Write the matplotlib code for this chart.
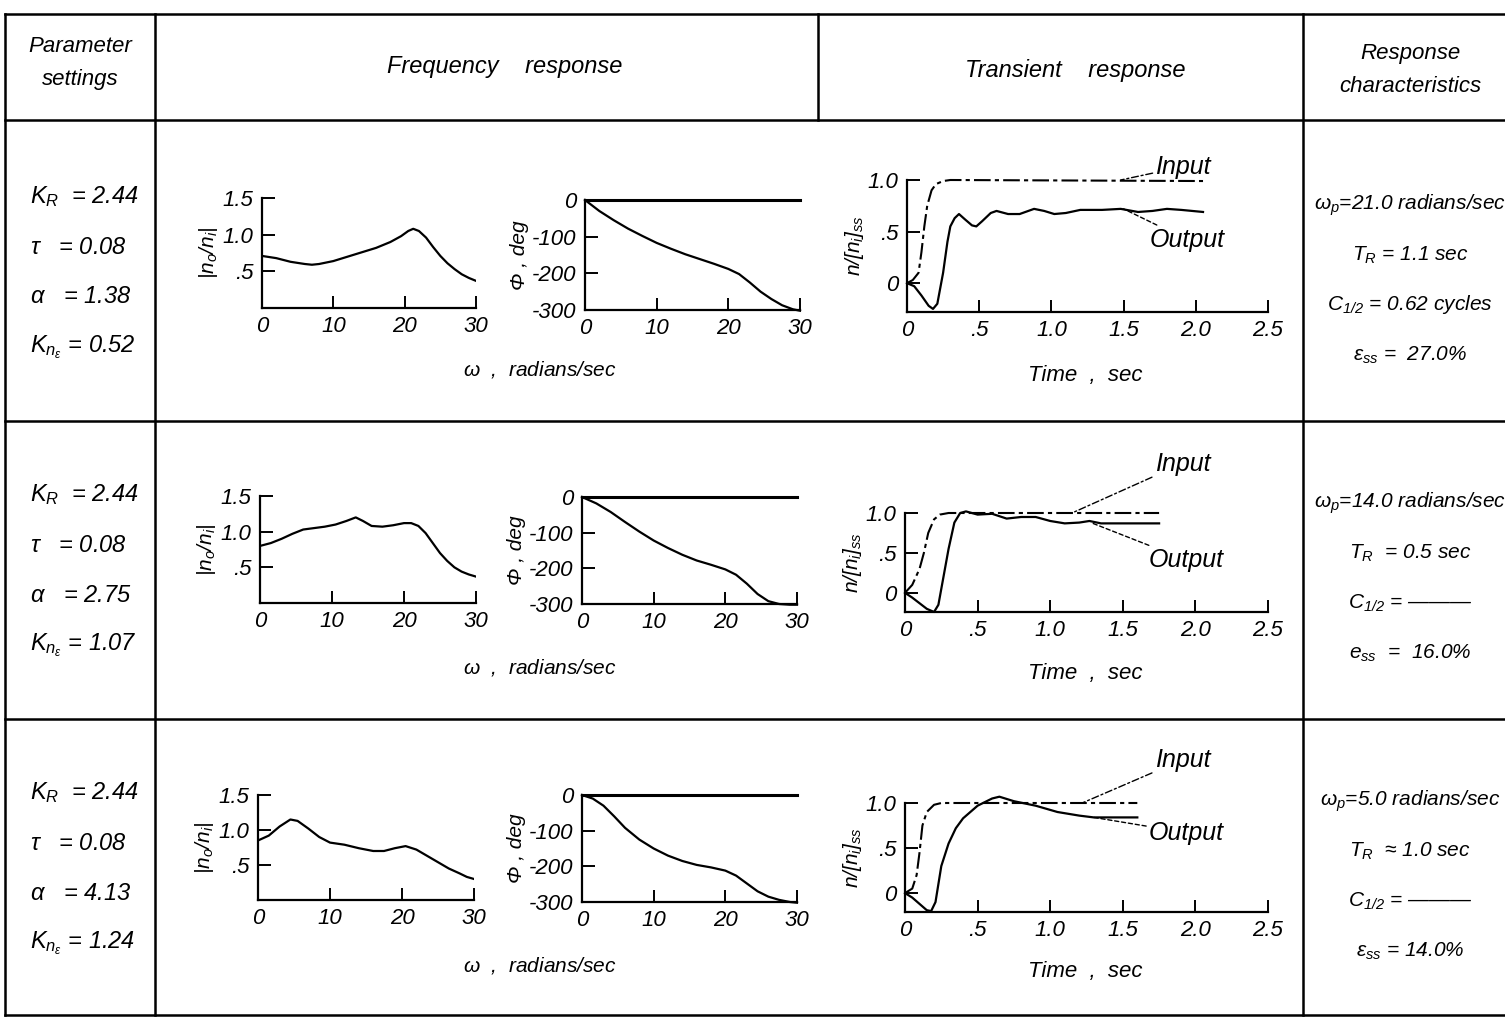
import matplotlib
matplotlib.use("Agg")
import matplotlib.pyplot as plt
from matplotlib.lines import Line2D

W, H = 1505, 1019

plt.rcParams["font.family"] = ["Liberation Sans", "DejaVu Sans"]
plt.rcParams["font.style"] = "italic"
plt.rcParams["mathtext.fontset"] = "custom"
plt.rcParams["mathtext.rm"] = "Liberation Sans:italic"
plt.rcParams["mathtext.it"] = "Liberation Sans:italic"
plt.rcParams["mathtext.sf"] = "Liberation Sans:italic"

headers = ["Parameter\nsettings", "Frequency    response", "Transient    response", "Response\ncharacteristics"]

params = [
    [r"$K_R$  = 2.44", r"$\tau$   = 0.08", r"$\alpha$   = 1.38", r"$K_{n_\epsilon}$ = 0.52"],
    [r"$K_R$  = 2.44", r"$\tau$   = 0.08", r"$\alpha$   = 2.75", r"$K_{n_\epsilon}$ = 1.07"],
    [r"$K_R$  = 2.44", r"$\tau$   = 0.08", r"$\alpha$   = 4.13", r"$K_{n_\epsilon}$ = 1.24"],
]

characteristics = [
    [r"$\omega_p$=21.0 radians/sec", r"$T_R$ = 1.1 sec", r"$C_{1/2}$ = 0.62 cycles", r"$\epsilon_{ss}$ =  27.0%"],
    [r"$\omega_p$=14.0 radians/sec", r"$T_R$  = 0.5 sec", r"$C_{1/2}$ = ———", r"$e_{ss}$  =  16.0%"],
    [r"$\omega_p$=5.0 radians/sec", r"$T_R$  ≈ 1.0 sec", r"$C_{1/2}$ = ———", r"$\epsilon_{ss}$ = 14.0%"],
]

# magnitude |no/ni| vs omega
w1 = [0, 2, 4, 6, 7, 8, 10, 12, 14, 16, 18, 19.5, 20.5, 21.2, 22, 23, 24, 25, 26, 27, 28, 29, 30]
m1 = [0.71, 0.68, 0.63, 0.6, 0.59, 0.6, 0.64, 0.7, 0.76, 0.82, 0.9, 0.98, 1.05, 1.08, 1.05, 0.96, 0.83, 0.71, 0.61, 0.53, 0.46, 0.41, 0.37]
w2 = [0, 1.5, 3, 4.5, 6, 7.5, 9, 10.5, 12, 13.3, 14.3, 15.5, 17, 18.5, 20, 21, 22, 23, 24, 25, 26, 27, 28, 29, 30]
m2 = [0.8, 0.84, 0.9, 0.97, 1.03, 1.05, 1.07, 1.1, 1.15, 1.2, 1.15, 1.08, 1.07, 1.09, 1.12, 1.12, 1.08, 0.98, 0.84, 0.7, 0.59, 0.5, 0.44, 0.4, 0.37]
w3 = [0, 1.5, 3, 4.5, 5.5, 7, 8.5, 10, 12, 14, 16, 17.5, 19, 20.5, 22, 23.5, 25, 26.5, 28, 29, 30]
m3 = [0.85, 0.92, 1.05, 1.15, 1.13, 1.02, 0.9, 0.82, 0.79, 0.74, 0.7, 0.7, 0.74, 0.77, 0.72, 0.63, 0.54, 0.45, 0.38, 0.33, 0.3]

# phase, deg vs omega
p1w = [0, 2, 4, 6, 8, 10, 12, 14, 16, 18, 20, 21.5, 23, 24.5, 26, 27.5, 29, 30]
p1 = [0, -30, -55, -78, -98, -117, -133, -148, -161, -174, -188, -202, -225, -250, -270, -287, -298, -302]
p2w = [0, 2, 4, 6, 8, 10, 12, 14, 16, 18, 20, 21.5, 23, 24.5, 26, 27.5, 29, 30]
p2 = [0, -18, -42, -70, -97, -122, -143, -162, -178, -190, -203, -218, -243, -272, -292, -300, -302, -302]
p3w = [0, 1.5, 3, 4.5, 6, 8, 10, 12, 14, 16, 18, 20, 21.5, 23, 24.5, 26, 27.5, 29, 30]
p3 = [0, -10, -30, -60, -92, -125, -150, -170, -185, -196, -203, -212, -226, -248, -270, -285, -294, -300, -302]

# transient response n/[ni]ss vs time
ti1 = [0, 0.04, 0.08, 0.1, 0.12, 0.14, 0.17, 0.2, 0.25, 0.3, 2.05]
vi1 = [0, 0.03, 0.1, 0.3, 0.55, 0.75, 0.9, 0.96, 0.99, 1.0, 0.99]
to1 = [0, 0.05, 0.1, 0.15, 0.18, 0.21, 0.25, 0.28, 0.3, 0.33, 0.36, 0.4, 0.45, 0.48, 0.52, 0.58, 0.62, 0.7, 0.78, 0.88, 0.95,
       1.02, 1.1, 1.2, 1.35, 1.48, 1.6, 1.7, 1.8, 1.9, 2.05]
vo1 = [0, -0.03, -0.12, -0.22, -0.25, -0.2, 0.1, 0.4, 0.55, 0.63, 0.67, 0.62, 0.56, 0.55, 0.6, 0.68, 0.7, 0.67, 0.67, 0.72, 0.7,
       0.67, 0.68, 0.71, 0.71, 0.72, 0.69, 0.7, 0.72, 0.71, 0.69]

ti2 = [0, 0.05, 0.1, 0.13, 0.16, 0.2, 0.24, 0.3, 1.75]
vi2 = [0, 0.1, 0.3, 0.5, 0.75, 0.92, 0.98, 1.0, 1.0]
to2 = [0, 0.05, 0.1, 0.15, 0.2, 0.23, 0.26, 0.3, 0.34, 0.38, 0.42, 0.5, 0.6, 0.7, 0.8, 0.9, 1.0, 1.1, 1.2, 1.27, 1.35, 1.45, 1.75]
vo2 = [0, -0.06, -0.13, -0.2, -0.24, -0.15, 0.15, 0.55, 0.88, 1.0, 1.02, 0.98, 0.99, 0.93, 0.95, 0.95, 0.9, 0.87, 0.88, 0.9, 0.87, 0.87, 0.87]

ti3 = [0, 0.05, 0.08, 0.1, 0.12, 0.15, 0.2, 0.25, 1.6]
vi3 = [0, 0.05, 0.2, 0.45, 0.75, 0.9, 0.98, 1.0, 1.0]
to3 = [0, 0.05, 0.1, 0.15, 0.18, 0.21, 0.25, 0.3, 0.35, 0.4, 0.5, 0.6, 0.65, 0.75, 0.9, 1.05, 1.2, 1.3, 1.45, 1.6]
vo3 = [0, -0.05, -0.12, -0.19, -0.2, -0.1, 0.3, 0.55, 0.72, 0.83, 0.97, 1.05, 1.07, 1.02, 0.97, 0.9, 0.86, 0.84, 0.84, 0.84]

mag_data = [(w1, m1), (w2, m2), (w3, m3)]
phase_data = [(p1w, p1), (p2w, p2), (p3w, p3)]
trans_data = [(ti1, vi1, to1, vo1), (ti2, vi2, to2, vo2), (ti3, vi3, to3, vo3)]

# pixel boxes (left, top, right, bottom) and layout per row
mag_box = [(262, 198, 476, 308), (260, 496, 476, 603), (258, 795, 474, 900)]
phase_box = [(585, 200, 800, 310), (582, 497, 797, 604), (582, 795, 797, 902)]
trans_box = [(907, 180, 1268, 312), (905, 513, 1268, 612), (905, 803, 1268, 912)]
trans_bottom = [-0.28, -0.24, -0.21]
input_anchor = [(1.48, 1.0), (1.15, 1.0), (1.22, 1.0)]
input_text = [(1.72, 1.13), (1.72, 1.62), (1.72, 1.48)]
output_anchor = [(1.5, 0.72), (1.28, 0.88), (1.3, 0.84)]
output_text = [(1.68, 0.42), (1.68, 0.41), (1.68, 0.67)]
row_shift = [0, 298, 596]

fig = plt.figure(figsize=(W / 100, H / 100), dpi=100)
fig.patch.set_facecolor("white")


def box(l, t, r, b):
    return [l / W, 1 - b / H, (r - l) / W, (b - t) / H]


def ftext(x, y, s, **kw):
    kw.setdefault("ha", "center")
    kw.setdefault("va", "center")
    return fig.text(x / W, 1 - y / H, s, **kw)


def hline(y, x0, x1, lw=1.8):
    fig.add_artist(Line2D([x0 / W, x1 / W], [1 - y / H, 1 - y / H], color="black", lw=lw))


def vline(x, y0, y1, lw=1.8):
    fig.add_artist(Line2D([x / W, x / W], [1 - y0 / H, 1 - y1 / H], color="black", lw=lw))


def style(ax):
    ax.spines["top"].set_visible(False)
    ax.spines["right"].set_visible(False)
    for s in ("left", "bottom"):
        ax.spines[s].set_linewidth(1.6)
    ax.tick_params(direction="in", length=9, width=1.4, labelsize=16, pad=6)
    ax.patch.set_alpha(0)


# table grid
for y in [14, 120, 421, 719, 1015]:
    hline(y, 5, 1505)
vline(5, 14, 1015)
vline(155, 14, 1015)
vline(818, 14, 120)
vline(1303, 14, 1015)

# header
ftext(80, 63, headers[0], fontsize=16, linespacing=1.7)
ftext(505, 67, headers[1], fontsize=17)
ftext(1075, 70, headers[2], fontsize=17)
ftext(1410, 70, headers[3], fontsize=16, linespacing=1.7)

for i in range(3):
    dy = row_shift[i]
    # parameter settings
    for k, s in enumerate(params[i]):
        ftext(30, 197 + dy + k * 50, s, ha="left", fontsize=17)
    # response characteristics
    for k, s in enumerate(characteristics[i]):
        ftext(1410, 205 + dy + k * 50, s, fontsize=15)

    # magnitude
    ax = fig.add_axes(box(*mag_box[i]))
    style(ax)
    ax.plot(*mag_data[i], color="black", lw=1.6)
    ax.set_xlim(0, 30)
    ax.set_ylim(0, 1.5)
    ax.set_xticks([0, 10, 20, 30])
    ax.set_yticks([0.5, 1.0, 1.5])
    ax.set_yticklabels([".5", "1.0", "1.5"])
    ax.set_ylabel(r"$|n_o/n_i|$", fontsize=15, labelpad=2)

    # phase
    ax = fig.add_axes(box(*phase_box[i]))
    style(ax)
    ax.plot(*phase_data[i], color="black", lw=1.6, clip_on=False)
    ax.axhline(0, color="black", lw=2.2, clip_on=False)
    ax.set_xlim(0, 30)
    ax.set_ylim(-300, 0)
    ax.set_xticks([0, 10, 20, 30])
    ax.set_yticks([0, -100, -200, -300])
    ax.set_yticklabels(["0", "-100", "-200", "-300"])
    ax.set_ylabel("Φ , deg", fontsize=15, labelpad=2)

    ftext(540, 370 + dy, r"$\omega$  ,  radians/sec", fontsize=15)

    # transient
    ti, vi, to, vo = trans_data[i]
    ax = fig.add_axes(box(*trans_box[i]))
    style(ax)
    ax.plot(ti, vi, color="black", lw=1.5, dashes=(8, 2, 2, 2), clip_on=False)
    ax.plot(to, vo, color="black", lw=1.6, clip_on=False)
    ax.set_xlim(0, 2.5)
    ax.set_ylim(trans_bottom[i], 1.0)
    ax.set_xticks([0, 0.5, 1.0, 1.5, 2.0, 2.5])
    ax.set_xticklabels(["0", ".5", "1.0", "1.5", "2.0", "2.5"])
    ax.set_yticks([0, 0.5, 1.0])
    ax.set_yticklabels(["0", ".5", "1.0"])
    ax.set_ylabel(r"$n/[n_i]_{ss}$", fontsize=15, labelpad=1)
    ax.annotate("Input", xy=input_anchor[i], xytext=input_text[i], fontsize=18, va="center", ha="left",
                annotation_clip=False,
                arrowprops=dict(arrowstyle="-", color="black", lw=1.0, linestyle=(0, (5, 2, 1.5, 2)), shrinkA=0, shrinkB=0))
    ax.annotate("Output", xy=output_anchor[i], xytext=output_text[i], fontsize=18, va="center", ha="left",
                annotation_clip=False,
                arrowprops=dict(arrowstyle="-", color="black", lw=1.0, linestyle=(0, (3, 2)), shrinkA=0, shrinkB=0))

    ftext(1085, 375 + dy, "Time  ,  sec", fontsize=16)

fig.savefig("out.png", dpi=100, facecolor="white")
